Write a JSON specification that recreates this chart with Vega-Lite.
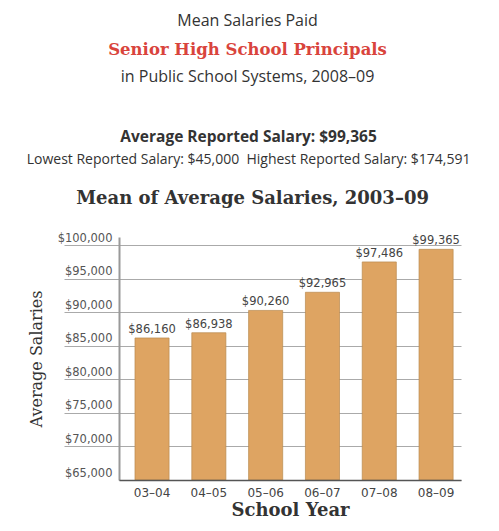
{
  "$schema": "https://vega.github.io/schema/vega-lite/v6.json",
  "padding": {"left": 26, "top": 13, "right": 5, "bottom": 5},
  "background": "white",
  "config": {"font": "Open Sans", "view": {"stroke": null}, "concat": {"spacing": 0}},
  "title": {"text": "Mean Salaries Paid", "font": "Open Sans", "fontSize": 16, "fontWeight": "normal", "color": "#333333", "anchor": "middle", "frame": "bounds", "offset": 13, "dx": -1},
  "vconcat": [
    {
      "title": {"text": "Senior High School Principals", "subtitle": "in Public School Systems, 2008–09", "font": "DejaVu Serif", "fontSize": 16.5, "fontWeight": "bold", "color": "#d9443c", "subtitleFont": "Open Sans", "subtitleFontSize": 16, "subtitleColor": "#333333", "subtitlePadding": 10, "anchor": "middle", "frame": "bounds", "offset": 45, "dx": -1},
      "vconcat": [
        {
          "title": {"text": "Average Reported Salary: $99,365", "subtitle": "Lowest Reported Salary: $45,000\u00a0 Highest Reported Salary: $174,591", "font": "Open Sans", "fontSize": 15.5, "fontWeight": "bold", "color": "#333333", "subtitleFont": "Open Sans", "subtitleFontSize": 14, "subtitleColor": "#333333", "subtitlePadding": 8, "anchor": "middle", "frame": "bounds", "offset": 23, "dx": 4},
          "vconcat": [
            {
              "title": {"text": "Mean of Average Salaries, 2003–09", "font": "DejaVu Serif", "fontSize": 18, "fontWeight": "bold", "color": "#333333", "anchor": "middle", "frame": "bounds", "offset": 24, "dx": 8},
              "width": 342,
              "height": 243,
              "data": {"values": [
                {"year": "03–04", "salary": 86160},
                {"year": "04–05", "salary": 86938},
                {"year": "05–06", "salary": 90260},
                {"year": "06–07", "salary": 92965},
                {"year": "07–08", "salary": 97486},
                {"year": "08–09", "salary": 99365}
              ]},
              "encoding": {
                "x": {"field": "year", "type": "nominal", "sort": null,
                  "scale": {"paddingInner": 0.4, "paddingOuter": 0.21, "align": 0.67},
                  "axis": {"title": "School Year", "titleFont": "DejaVu Serif", "titleFontSize": 18, "titleFontWeight": "bold", "titleColor": "#333333", "titlePadding": 3, "labelFont": "DejaVu Sans", "labelFontSize": 12, "labelColor": "#444444", "labelPadding": 7, "labelAngle": 0, "ticks": false, "domainColor": "#555555", "domainWidth": 1.5, "zindex": 1}},
                "y": {"field": "salary", "type": "quantitative",
                  "scale": {"domain": [65000, 101200], "nice": false, "zero": false},
                  "axis": {"title": "Average Salaries", "titleFont": "DejaVu Serif", "titleFontSize": 16, "titleFontWeight": "normal", "titleColor": "#333333", "titlePadding": 13,
                    "values": [65000, 70000, 75000, 80000, 85000, 90000, 95000, 100000],
                    "labelExpr": "'$' + format(datum.value, ',')",
                    "labelOverlap": false,
                    "labelFont": "DejaVu Sans", "labelFontSize": 11.5, "labelColor": "#555555",
                    "labelBaseline": "alphabetic", "labelOffset": -4, "labelPadding": -48,
                    "grid": true, "gridColor": "#aaaaaa", "gridWidth": 1,
                    "tickSize": 55, "tickColor": {"condition": {"test": "datum.value == 65000", "value": "transparent"}, "value": "#aaaaaa"},
                    "domainColor": "#999999", "domainWidth": 2}}
              },
              "layer": [
                {
                  "mark": {"type": "bar", "color": "#dea462", "stroke": "#b98a4f", "strokeWidth": 0.7},
                  "encoding": {"y2": {"datum": 65000}}
                },
                {
                  "mark": {"type": "text", "baseline": "alphabetic", "dy": -5, "fontSize": 11.5, "font": "DejaVu Sans", "color": "#444444"},
                  "encoding": {
                    "text": {"field": "salary", "type": "quantitative", "format": "$,.0f"}
                  }
                }
              ]
            }
          ]
        }
      ]
    }
  ]
}
